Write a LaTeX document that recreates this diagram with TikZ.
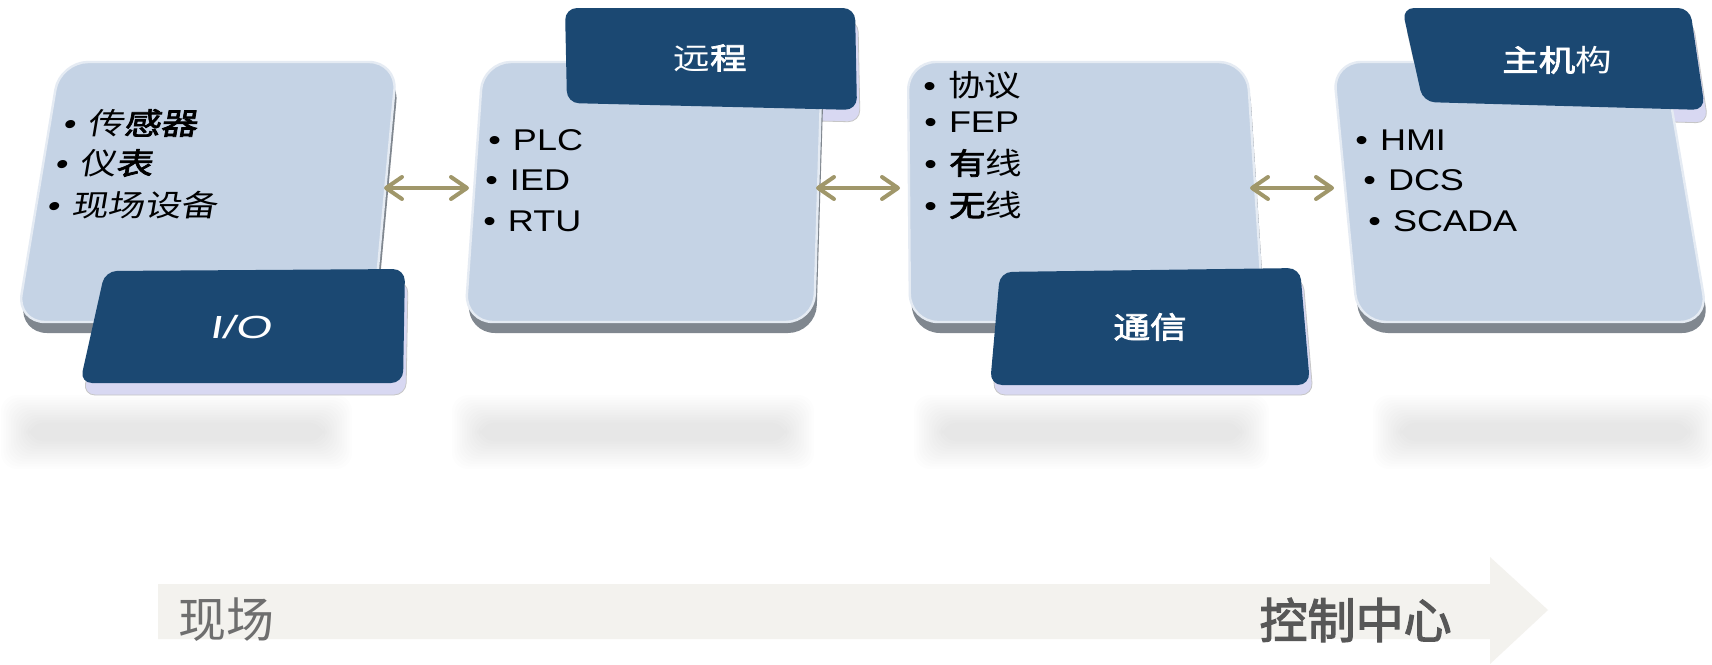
\documentclass[tikz,border=0pt]{standalone}
\usepackage{fontspec}
\setmainfont[FakeStretch=1.2]{Liberation Sans}
\newfontfamily\cjk[AutoFakeBold=2.5]{Noto Sans CJK SC}
\newfontfamily\cjkw[FakeStretch=1.22,AutoFakeBold=2.5]{Noto Sans CJK SC}
\newfontfamily\cjksl[FakeSlant=0.17,FakeStretch=1.22,AutoFakeBold=2.5]{Noto Sans CJK SC}
\newfontfamily\latsl[FakeSlant=0.17,FakeStretch=1.2]{Liberation Sans}
\newfontfamily\latio[FakeSlant=0.17,FakeStretch=1.45]{Liberation Sans}
\usetikzlibrary{arrows.meta}
\definecolor{boxfill}{HTML}{C5D3E5}
\definecolor{boxedge}{HTML}{80878F}
\definecolor{tabfill}{HTML}{1B4872}
\definecolor{tabrim}{HTML}{D8D8F2}
\definecolor{linkcol}{HTML}{A0976A}
\definecolor{bandcol}{HTML}{F3F2EE}

\begin{document}
\begin{tikzpicture}[x=0.5pt, y=-0.5pt,
    boxbase/.style={fill=boxedge, rounded corners=14pt},
    boxface/.style={fill=boxfill, draw=white!55!boxfill, line width=1.2pt, rounded corners=14pt},
    tabbase/.style={fill=tabrim, draw=gray!45, line width=0.4pt, rounded corners=6pt},
    tabface/.style={fill=tabfill, rounded corners=6pt},
    item/.style={anchor=west, inner sep=0pt, font=\fontsize{15pt}{18pt}\selectfont},
    tablabel/.style={inner sep=0pt, text=white, font=\fontsize{15pt}{18pt}\selectfont},
    link/.style={draw=linkcol, line width=2pt, line cap=round,
        {Straight Barb[length=8pt,width=11pt,round]}-{Straight Barb[length=8pt,width=11pt,round]}}]
    \useasboundingbox (0,0) rectangle (1712,664);
    \fill[white] (0,0) rectangle (1712,664);

    % bottom band
    \fill[bandcol] (158,584) -- (1490,584) -- (1490,557) -- (1548,610) -- (1490,664)
        -- (1490,639) -- (158,639) -- cycle;
    \node[anchor=west, inner sep=0pt, text=black!57, font=\fontsize{24pt}{28pt}\selectfont\cjk] (field) at (178,620) {现场};
    \node[anchor=east, inner sep=0pt, text=black!66, font=\fontsize{24pt}{28pt}\selectfont\cjk\bfseries] (ctrl) at (1452,620) {控制中心};

    % shadows
    \foreach \xa/\xb in {15/338, 466/800, 928/1255, 1387/1703}
        \foreach \k in {0,...,11}
            \fill[black, opacity=0.0095, rounded corners=8pt] (\xa-14+2.5*\k, 395+2.5*\k) rectangle (\xb+14-2.5*\k, 469-2.5*\k);

    % rims of the upper tabs
    \draw[tabbase, shift={(3,12)}] (565,8) -- (855,8) -- (857,110) -- (567,103) -- cycle;
    \draw[tabbase, shift={(3,13)}] (1402,8) -- (1690,8) -- (1705,110) -- (1423,102) -- cycle;

    % boxes
    \fill[boxbase, shift={(2,11)}] (60,62) -- (397,62) -- (373,322) -- (17,322) -- cycle;
    \draw[boxface] (60,62) -- (397,62) -- (373,322) -- (17,322) -- cycle;
    \fill[boxbase, shift={(2,11)}] (483,62) -- (822,62) -- (814,322) -- (465,322) -- cycle;
    \draw[boxface] (483,62) -- (822,62) -- (814,322) -- (465,322) -- cycle;
    \fill[boxbase, shift={(2,11)}] (908,62) -- (1247,62) -- (1264,322) -- (910,322) -- cycle;
    \draw[boxface] (908,62) -- (1247,62) -- (1264,322) -- (910,322) -- cycle;
    \fill[boxbase, shift={(2,11)}] (1333,62) -- (1664,62) -- (1708,322) -- (1358,322) -- cycle;
    \draw[boxface] (1333,62) -- (1664,62) -- (1708,322) -- (1358,322) -- cycle;

    % tabs
    \fill[tabface] (565,8) -- (855,8) -- (857,110) -- (567,103) -- cycle;
    \fill[tabface] (1402,8) -- (1690,8) -- (1705,110) -- (1423,102) -- cycle;
    \draw[tabbase, shift={(3,12)}] (105,271) -- (405,269) -- (403,383) -- (80,383) -- cycle;
    \fill[tabface] (105,271) -- (405,269) -- (403,383) -- (80,383) -- cycle;
    \draw[tabbase, shift={(3,10)}] (1000,272) -- (1300,268) -- (1310,385) -- (990,385) -- cycle;
    \fill[tabface] (1000,272) -- (1300,268) -- (1310,385) -- (990,385) -- cycle;

    \node[tablabel, font=\fontsize{16pt}{18pt}\selectfont\latio] (io) at (240,327) {I/O};
    \node[tablabel] (remote) at (710,58) {\cjkw 远\textbf{程}};
    \node[tablabel] (comm) at (1150,327) {\cjkw\bfseries 通信};
    \node[tablabel] (host) at (1557,60) {\cjkw\textbf{主机}构};

    % items
    \node[item] (f1) at (62,123) {\latsl •\hspace{0.4em}\cjksl 传\textbf{感器}};
    \node[item] (f2) at (54,163) {\latsl •\hspace{0.4em}\cjksl 仪\textbf{表}};
    \node[item] (f3) at (46,205) {\latsl •\hspace{0.4em}\cjksl 现场设备};
    \node[item] (r1) at (488,140) {•\hspace{0.4em}PLC};
    \node[item] (r2) at (485,180) {•\hspace{0.4em}IED};
    \node[item] (r3) at (483,221) {•\hspace{0.4em}RTU};
    \node[item] (c1) at (923,85) {•\hspace{0.4em}\cjkw 协议};
    \node[item] (c2) at (924,122) {•\hspace{0.4em}FEP};
    \node[item] (c3) at (924,163) {•\hspace{0.4em}\cjkw\textbf{有}线};
    \node[item] (c4) at (924,205) {•\hspace{0.4em}\cjkw\textbf{无}线};
    \node[item] (h1) at (1355,140) {•\hspace{0.4em}HMI};
    \node[item] (h2) at (1363,180) {•\hspace{0.4em}DCS};
    \node[item] (h3) at (1368,221) {•\hspace{0.4em}SCADA};

    % links
    \coordinate (b1e) at (384,188);
    \coordinate (b2w) at (469,188);
    \coordinate (b2e) at (816,188);
    \coordinate (b3w) at (900,188);
    \coordinate (b3e) at (1250,188);
    \coordinate (b4w) at (1334,188);
    \draw[link] (b1e) -- (b2w);
    \draw[link] (b2e) -- (b3w);
    \draw[link] (b3e) -- (b4w);
\end{tikzpicture}
\end{document}
